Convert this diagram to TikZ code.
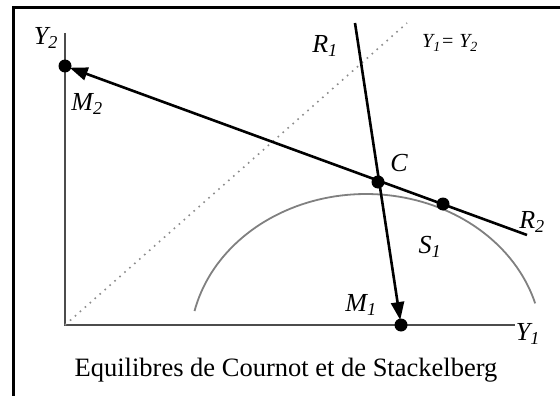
\documentclass[tikz,border=0pt]{standalone}
\usepackage{fontspec}
\setmainfont{Liberation Serif}
\usetikzlibrary{arrows.meta}

\tikzset{
  lbl/.style={font=\fontsize{26}{30}\selectfont\itshape, inner sep=0pt},
  reaction/.style={line width=2.6pt, shorten >=5pt, -{Triangle[length=18pt,width=13pt]}},
  axis/.style={line width=1.6pt, black!70},
}

\begin{document}
\begin{tikzpicture}[x=1pt,y=-1pt]
\useasboundingbox (0,0) rectangle (560,396);

\coordinate (O) at (65,325);
\coordinate (Y1end) at (515,325);
\coordinate (Y2end) at (65,33);
\coordinate (D) at (407,23);
\coordinate (M1) at (401,325);
\coordinate (M2) at (65,66);
\coordinate (C) at (378,182);
\coordinate (S) at (443,204);
\coordinate (R1top) at (355,23);
\coordinate (R2end) at (527,235);

% frame
\draw[line width=3pt] (13,396) -- (13,8) -- (560,8);

\draw[axis] (Y2end) -- (O) -- (Y1end);
\draw[black!45, line width=1.6pt, dash pattern=on 1.6pt off 5pt] (O) -- (D);

% isoprofit curve
\draw[black!50, line width=1.8pt] plot[domain=16:167, samples=80]
  ({366+176*cos(\x)}, {345-151*sin(\x)});

\draw[reaction] (R1top) -- (M1);
\draw[reaction] (R2end) -- (M2);

\foreach \point in {M1,M2,C,S}
  \fill (\point) circle (6.5pt);

\node[lbl] (lY2) at (46,38) {Y\textsubscript{2}};
\node[lbl] (lY1) at (528,334) {Y\textsubscript{1}};
\node[lbl] (lM2) at (87,104) {M\textsubscript{2}};
\node[lbl] (lM1) at (361,305) {M\textsubscript{1}};
\node[lbl] (lR1) at (325,46) {R\textsubscript{1}};
\node[lbl] (lR2) at (532,222) {R\textsubscript{2}};
\node[lbl] (lC) at (399,163) {C};
\node[lbl] (lS1) at (430,247) {S\textsubscript{1}};
\node[lbl, font=\fontsize{20}{24}\selectfont\itshape] (ldiag) at (450,43) {Y\textsubscript{1}= Y\textsubscript{2}};
\node[inner sep=0pt, font=\fontsize{26.5}{30}\selectfont] (title) at (286,370)
  {Equilibres de Cournot et de Stackelberg};
\end{tikzpicture}
\end{document}
